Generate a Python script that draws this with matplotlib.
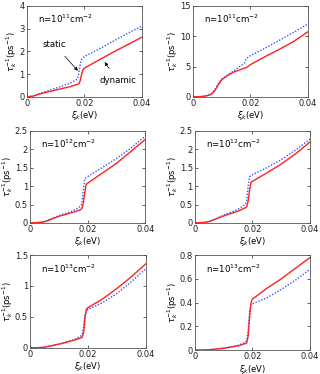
import numpy as np
import matplotlib
matplotlib.use('Agg')
import matplotlib.pyplot as plt

# energy grids (eV)
x_a = [0, 0.002, 0.005, 0.01, 0.015, 0.018, 0.0185, 0.019, 0.0195, 0.02, 0.025, 0.03, 0.035, 0.04]
x_a_static = [0, 0.002, 0.005, 0.01, 0.015, 0.0175, 0.018, 0.0185, 0.019, 0.02, 0.025, 0.03, 0.035, 0.04]
x_b = [0, 0.003, 0.005, 0.006, 0.007, 0.008, 0.009, 0.01, 0.012, 0.014, 0.016, 0.018, 0.0185, 0.019,
       0.02, 0.025, 0.03, 0.035, 0.04]
x_c = [0, 0.003, 0.005, 0.01, 0.015, 0.0175, 0.018, 0.0185, 0.019, 0.0195, 0.02, 0.025, 0.03, 0.035, 0.04]

# scattering rates (1/ps): dynamic (red) and static (blue)
dyn_11a = [0, 0.03, 0.15, 0.3, 0.45, 0.57, 0.7, 1.0, 1.2, 1.27, 1.62, 1.97, 2.3, 2.63]
sta_11a = [0, 0.03, 0.17, 0.38, 0.6, 0.78, 1.0, 1.4, 1.65, 1.78, 2.1, 2.45, 2.8, 3.12]

dyn_11b = [0, 0.05, 0.2, 0.35, 0.65, 1.3, 2.1, 2.8, 3.5, 4.05, 4.4, 4.75, 4.8, 4.95, 5.3, 6.6, 7.8, 9.1, 10.7]
sta_11b = [0, 0.05, 0.2, 0.4, 0.8, 1.5, 2.3, 2.9, 3.6, 4.2, 4.9, 5.6, 6.2, 6.45, 6.8, 8.0, 9.3, 10.6, 12.0]

dyn_12a = [0, 0.01, 0.03, 0.18, 0.29, 0.36, 0.39, 0.55, 0.83, 1.05, 1.08, 1.35, 1.62, 1.94, 2.27]
sta_12a = [0, 0.01, 0.03, 0.2, 0.33, 0.45, 0.52, 0.9, 1.2, 1.23, 1.26, 1.5, 1.75, 2.03, 2.36]

dyn_12b = [0, 0.01, 0.04, 0.19, 0.32, 0.41, 0.44, 0.6, 0.9, 1.1, 1.13, 1.36, 1.6, 1.88, 2.2]
sta_12b = [0, 0.01, 0.04, 0.21, 0.37, 0.5, 0.6, 1.0, 1.26, 1.29, 1.31, 1.5, 1.72, 1.98, 2.28]

dyn_13a = [0, 0.003, 0.01, 0.06, 0.12, 0.16, 0.17, 0.25, 0.5, 0.63, 0.65, 0.79, 0.96, 1.15, 1.36]
sta_13a = [0, 0.003, 0.01, 0.06, 0.13, 0.19, 0.22, 0.35, 0.55, 0.6, 0.62, 0.73, 0.88, 1.07, 1.28]

dyn_13b = [0, 0.001, 0.003, 0.015, 0.035, 0.055, 0.06, 0.12, 0.28, 0.4, 0.43, 0.52, 0.6, 0.69, 0.78]
sta_13b = [0, 0.001, 0.003, 0.016, 0.04, 0.065, 0.08, 0.16, 0.33, 0.38, 0.39, 0.44, 0.51, 0.59, 0.68]

x_ticks = [0, 0.02, 0.04]
x_ticklabels = ['0', '0.02', '0.04']

panels = [
    # (x dyn, dyn, x static, static, exponent, yticks, yticklabels)
    (x_a, dyn_11a, x_a_static, sta_11a, '11', [0, 1, 2, 3, 4], ['0', '1', '2', '3', '4']),
    (x_b, dyn_11b, x_b, sta_11b, '11', [0, 5, 10, 15], ['0', '5', '10', '15']),
    (x_c, dyn_12a, x_c, sta_12a, '12', [0, 0.5, 1, 1.5, 2, 2.5], ['0', '0.5', '1', '1.5', '2', '2.5']),
    (x_c, dyn_12b, x_c, sta_12b, '12', [0, 0.5, 1, 1.5, 2, 2.5], ['0', '0.5', '1', '1.5', '2', '2.5']),
    (x_c, dyn_13a, x_c, sta_13a, '13', [0, 0.5, 1, 1.5], ['0', '0.5', '1', '1.5']),
    (x_c, dyn_13b, x_c, sta_13b, '13', [0, 0.2, 0.4, 0.6, 0.8], ['0', '0.2', '0.4', '0.6', '0.8']),
]

# axes rectangles in figure fraction (left, bottom, width, height)
rects = [
    (0.084, 0.741, 0.360, 0.243),
    (0.603, 0.741, 0.358, 0.243),
    (0.094, 0.404, 0.360, 0.246),
    (0.609, 0.404, 0.360, 0.246),
    (0.094, 0.070, 0.362, 0.248),
    (0.609, 0.064, 0.360, 0.254),
]

fig = plt.figure(figsize=(3.2, 3.74), dpi=100)
axes = []
for rect, (xd, yd, xs, ys, expo, yt, ytl) in zip(rects, panels):
    ax = fig.add_axes(rect)
    ax.plot(xs, ys, linestyle=(0, (1, 1.2)), color='#3355ff', linewidth=1.0)
    ax.plot(xd, yd, '-', color='#ff2020', linewidth=1.0)
    ax.set_xlim(0, 0.04)
    ax.set_ylim(yt[0], yt[-1])
    ax.set_xticks(x_ticks)
    ax.set_xticklabels(x_ticklabels)
    ax.set_yticks(yt)
    ax.set_yticklabels(ytl)
    ax.tick_params(direction='in', length=2.5, width=0.5, labelsize=6, pad=1.5, colors='#222222',
                   top=True, right=True)
    for sp in ax.spines.values():
        sp.set_color('#555555')
        sp.set_linewidth(0.6)
    ax.set_xlabel(r'$\xi_k$(eV)', fontsize=6, labelpad=1)
    ax.set_ylabel(r'$\tau_k^{-1}$(ps$^{-1}$)', fontsize=6, labelpad=0)
    ax.text(0.095, 0.81, r'n=10$^{%s}$cm$^{-2}$' % expo, transform=ax.transAxes, fontsize=6.2)
    axes.append(ax)

# annotations on the first panel
ax = axes[0]
ax.annotate('static', xy=(0.0177, 1.15), xytext=(0.0096, 2.29), fontsize=6.2, ha='center', va='center',
            arrowprops=dict(arrowstyle='-|>', color='black', lw=0.5, mutation_scale=5, shrinkA=4, shrinkB=0))
ax.annotate('dynamic', xy=(0.027, 1.53), xytext=(0.0315, 0.73), fontsize=6.2, ha='center', va='center',
            arrowprops=dict(arrowstyle='-|>', color='black', lw=0.5, mutation_scale=5, shrinkA=4, shrinkB=0))

fig.savefig('out.png', dpi=100)
